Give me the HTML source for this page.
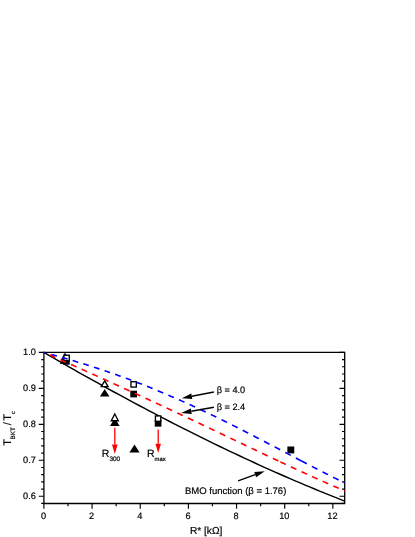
<!DOCTYPE html>
<html><head><meta charset="utf-8"><title>chart</title>
<style>html,body{margin:0;padding:0;background:#fff;}body{width:415px;height:537px;position:relative;overflow:hidden;font-family:"Liberation Sans",sans-serif;}</style></head>
<body>
<svg width="415" height="537" viewBox="0 0 415 537" style="position:absolute;left:0;top:0">
<rect width="415" height="537" fill="#fff"/>
<path d="M43.9,352.4 H344.7 V503.5 H43.9 Z" fill="none" stroke="#000" stroke-width="1.3"/>
<path d="M43.9,352.40 h-5.2 M344.7,352.40 h-5.2 M43.9,359.59 h-2.7 M344.7,359.59 h-2.7 M43.9,366.78 h-2.7 M344.7,366.78 h-2.7 M43.9,373.98 h-2.7 M344.7,373.98 h-2.7 M43.9,381.17 h-2.7 M344.7,381.17 h-2.7 M43.9,388.36 h-5.2 M344.7,388.36 h-5.2 M43.9,395.55 h-2.7 M344.7,395.55 h-2.7 M43.9,402.74 h-2.7 M344.7,402.74 h-2.7 M43.9,409.94 h-2.7 M344.7,409.94 h-2.7 M43.9,417.13 h-2.7 M344.7,417.13 h-2.7 M43.9,424.32 h-5.2 M344.7,424.32 h-5.2 M43.9,431.51 h-2.7 M344.7,431.51 h-2.7 M43.9,438.70 h-2.7 M344.7,438.70 h-2.7 M43.9,445.90 h-2.7 M344.7,445.90 h-2.7 M43.9,453.09 h-2.7 M344.7,453.09 h-2.7 M43.9,460.28 h-5.2 M344.7,460.28 h-5.2 M43.9,467.47 h-2.7 M344.7,467.47 h-2.7 M43.9,474.66 h-2.7 M344.7,474.66 h-2.7 M43.9,481.86 h-2.7 M344.7,481.86 h-2.7 M43.9,489.05 h-2.7 M344.7,489.05 h-2.7 M43.9,496.24 h-5.2 M344.7,496.24 h-5.2 M43.9,503.43 h-2.7 M344.7,503.43 h-2.7 M43.90,503.5 v5.2 M67.98,503.5 v2.7 M92.06,503.5 v5.2 M116.14,503.5 v2.7 M140.22,503.5 v5.2 M164.30,503.5 v2.7 M188.38,503.5 v5.2 M212.46,503.5 v2.7 M236.54,503.5 v5.2 M260.62,503.5 v2.7 M284.70,503.5 v5.2 M308.78,503.5 v2.7 M332.86,503.5 v5.2" fill="none" stroke="#000" stroke-width="1.15"/>
<path d="M43.90,352.40 L48.91,355.31 L53.93,358.21 L58.94,361.09 L63.95,363.97 L68.97,366.83 L73.98,369.68 L78.99,372.51 L84.01,375.34 L89.02,378.15 L94.03,380.94 L99.05,383.73 L104.06,386.50 L109.07,389.26 L114.09,392.00 L119.10,394.73 L124.11,397.45 L129.13,400.15 L134.14,402.84 L139.15,405.51 L144.17,408.17 L149.18,410.82 L154.19,413.45 L159.21,416.07 L164.22,418.67 L169.23,421.25 L174.25,423.82 L179.26,426.38 L184.27,428.92 L189.29,431.44 L194.30,433.95 L199.31,436.44 L204.33,438.92 L209.34,441.38 L214.35,443.82 L219.37,446.25 L224.38,448.66 L229.39,451.05 L234.41,453.42 L239.42,455.78 L244.43,458.12 L249.45,460.45 L254.46,462.76 L259.47,465.05 L264.49,467.32 L269.50,469.57 L274.51,471.80 L279.53,474.02 L284.54,476.22 L289.55,478.40 L294.57,480.56 L299.58,482.70 L304.59,484.83 L309.61,486.93 L314.62,489.02 L319.63,491.08 L324.65,493.13 L329.66,495.16 L334.67,497.16 L339.69,499.15 L344.70,501.12" fill="none" stroke="#000" stroke-width="1.45"/>
<path d="M64.70,356.20 L69.50,363.90 L59.90,363.90 Z" fill="#000"/>
<path d="M104.70,389.00 L109.50,396.60 L99.90,396.60 Z" fill="#000"/>
<path d="M114.80,417.90 L119.60,426.10 L110.00,426.10 Z" fill="#000"/>
<path d="M134.50,444.50 L139.60,452.60 L129.40,452.60 Z" fill="#000"/>
<path d="M65.00,353.87 L68.44,359.93 L61.56,359.93 Z" fill="#fff" stroke="#000" stroke-width="1.35" stroke-linejoin="miter" stroke-miterlimit="10"/>
<path d="M104.70,380.92 L108.11,386.62 L101.29,386.62 Z" fill="#fff" stroke="#000" stroke-width="1.35" stroke-linejoin="miter" stroke-miterlimit="10"/>
<path d="M114.80,414.06 L118.29,420.72 L111.31,420.72 Z" fill="#fff" stroke="#000" stroke-width="1.35" stroke-linejoin="miter" stroke-miterlimit="10"/>
<rect x="63.00" y="358.00" width="6.70" height="6.70" fill="#000"/>
<rect x="130.30" y="390.70" width="6.70" height="6.70" fill="#000"/>
<rect x="154.75" y="419.95" width="6.70" height="6.70" fill="#000"/>
<rect x="287.35" y="446.50" width="6.90" height="6.90" fill="#000"/>
<rect x="63.92" y="355.22" width="5.35" height="5.35" fill="#fff" stroke="#000" stroke-width="1.35"/>
<rect x="130.98" y="381.72" width="5.35" height="5.35" fill="#fff" stroke="#000" stroke-width="1.35"/>
<rect x="155.43" y="415.93" width="5.35" height="5.35" fill="#fff" stroke="#000" stroke-width="1.35"/>
<path d="M43.90,352.40 L44.16,352.52 L44.42,352.63 L44.68,352.75 M49.80,355.03 L51.63,355.85 L53.47,356.67 L55.30,357.48 M60.42,359.76 L62.25,360.58 L64.09,361.40 L65.92,362.21 M71.04,364.50 L72.87,365.32 L74.71,366.13 L76.54,366.95 M81.66,369.24 L83.49,370.06 L85.33,370.88 L87.16,371.70 M92.28,374.00 L94.11,374.82 L95.95,375.64 L97.78,376.47 M102.90,378.77 L104.73,379.60 L106.57,380.43 L108.40,381.25 M113.52,383.57 L115.35,384.40 L117.19,385.23 L119.02,386.07 M124.14,388.40 L125.97,389.23 L127.81,390.07 L129.64,390.91 M134.76,393.25 L136.59,394.09 L138.43,394.93 L140.26,395.77 M145.38,398.13 L147.21,398.98 L149.05,399.82 L150.88,400.67 M156.00,403.04 L157.83,403.90 L159.67,404.75 L161.50,405.60 M166.62,407.99 L168.45,408.84 L170.29,409.70 L172.12,410.56 M177.24,412.96 L179.07,413.82 L180.91,414.68 L182.74,415.54 M187.86,417.95 L189.69,418.82 L191.53,419.69 L193.36,420.55 M198.48,422.97 L200.31,423.84 L202.15,424.71 L203.98,425.58 M209.10,428.01 L210.93,428.89 L212.77,429.76 L214.60,430.63 M219.72,433.07 L221.55,433.94 L223.39,434.82 L225.22,435.69 M230.34,438.13 L232.17,439.01 L234.01,439.88 L235.84,440.76 M240.96,443.20 L242.79,444.07 L244.63,444.95 L246.46,445.82 M251.58,448.26 L253.41,449.13 L255.25,450.00 L257.08,450.87 M262.20,453.31 L264.03,454.17 L265.87,455.04 L267.70,455.91 M272.82,458.33 L274.65,459.20 L276.49,460.06 L278.32,460.92 M280.30,461.85 L282.13,462.71 L283.97,463.57 L285.80,464.43 M290.90,466.81 L292.73,467.66 L294.57,468.51 L296.40,469.36 M301.50,471.71 L303.33,472.55 L305.17,473.39 L307.00,474.23 M312.10,476.55 L313.93,477.38 L315.77,478.20 L317.60,479.03 M322.70,481.31 L324.53,482.12 L326.37,482.94 L328.20,483.75 M333.30,485.98 L335.13,486.78 L336.97,487.57 L338.80,488.37 M343.90,490.55 L344.17,490.66 L344.43,490.77 L344.70,490.89" fill="none" stroke="#ff0000" stroke-width="1.6"/>
<path d="M43.90,352.40 L44.43,352.54 L44.97,352.69 L45.50,352.83 M51.40,354.45 L53.23,354.96 L55.07,355.47 L56.90,355.99 M62.03,357.44 L63.86,357.97 L65.70,358.50 L67.53,359.04 M72.66,360.55 L74.49,361.10 L76.33,361.66 L78.16,362.21 M83.29,363.79 L85.12,364.36 L86.96,364.94 L88.79,365.52 M93.92,367.17 L95.75,367.76 L97.59,368.37 L99.42,368.97 M104.55,370.69 L106.38,371.31 L108.22,371.94 L110.05,372.57 M115.18,374.36 L117.01,375.01 L118.85,375.67 L120.68,376.32 M125.81,378.19 L127.64,378.87 L129.48,379.55 L131.31,380.24 M136.44,382.18 L138.27,382.89 L140.11,383.60 L141.94,384.31 M147.07,386.33 L148.90,387.07 L150.74,387.80 L152.57,388.54 M157.70,390.64 L159.53,391.40 L161.37,392.17 L163.20,392.94 M168.33,395.11 L170.16,395.90 L172.00,396.69 L173.83,397.49 M178.96,399.74 L180.79,400.55 L182.63,401.37 L184.46,402.19 M189.59,404.51 L191.42,405.35 L193.26,406.19 L195.09,407.04 M200.22,409.43 L202.05,410.29 L203.89,411.16 L205.72,412.03 M210.85,414.48 L212.68,415.36 L214.52,416.25 L216.35,417.14 M221.48,419.65 L223.31,420.56 L225.15,421.46 L226.98,422.37 M232.11,424.93 L233.94,425.86 L235.78,426.78 L237.61,427.71 M242.74,430.31 L244.57,431.25 L246.41,432.19 L248.24,433.13 M253.37,435.77 L255.20,436.72 L257.04,437.67 L258.87,438.62 M264.00,441.29 L265.83,442.25 L267.67,443.21 L269.50,444.17 M274.63,446.86 L276.46,447.82 L278.30,448.78 L280.13,449.75 M285.26,452.45 L287.09,453.41 L288.93,454.37 L290.76,455.34 M295.89,458.03 L297.72,459.00 L299.56,459.96 L301.39,460.92 M301.30,460.87 L303.13,461.83 L304.97,462.79 L306.80,463.74 M311.90,466.40 L313.73,467.35 L315.57,468.30 L317.40,469.24 M322.50,471.86 L324.33,472.80 L326.17,473.73 L328.00,474.66 M333.10,477.23 L334.93,478.15 L336.77,479.06 L338.60,479.97 M343.70,482.48 L344.03,482.64 L344.37,482.81 L344.70,482.97" fill="none" stroke="#0000ff" stroke-width="1.6"/>
<defs><filter id="g" x="0" y="0" width="1" height="1" filterUnits="objectBoundingBox" color-interpolation-filters="sRGB"><feColorMatrix type="saturate" values="0"/></filter></defs>
<g filter="url(#g)" stroke="#000" stroke-width="0.2" text-rendering="geometricPrecision" font-family="Liberation Sans, sans-serif" fill="#000">
<rect x="0" y="340" width="415" height="197" fill="none" stroke="none"/>
<g font-size="9.2">
<text x="35.9" y="354.95" text-anchor="end">1.0</text>
<text x="35.9" y="390.91" text-anchor="end">0.9</text>
<text x="35.9" y="426.87" text-anchor="end">0.8</text>
<text x="35.9" y="462.83" text-anchor="end">0.7</text>
<text x="35.9" y="498.79" text-anchor="end">0.6</text>
<text x="43.50" y="518.6" text-anchor="middle">0</text>
<text x="91.66" y="518.6" text-anchor="middle">2</text>
<text x="139.82" y="518.6" text-anchor="middle">4</text>
<text x="187.98" y="518.6" text-anchor="middle">6</text>
<text x="236.14" y="518.6" text-anchor="middle">8</text>
<text x="284.30" y="518.6" text-anchor="middle">10</text>
<text x="332.46" y="518.6" text-anchor="middle">12</text>
</g>
<text x="189.9" y="533.5" font-size="10.2">R* [kΩ]</text>
<text transform="translate(11.1,445.85) rotate(-90)" font-size="11">T</text>
<text transform="translate(15.2,439.4) rotate(-90)" font-size="6.3">BKT</text>
<text transform="translate(11.1,425.3) rotate(-90)" font-size="11">/</text>
<text transform="translate(11.1,420.75) rotate(-90)" font-size="11">T</text>
<text transform="translate(15.0,414.1) rotate(-90)" font-size="5.8">c</text>
<text x="216.7" y="392.8" font-size="9.2">β = 4.0</text>
<text x="216.7" y="409.5" font-size="9.2">β = 2.4</text>
<text x="185.0" y="493.7" font-size="9.5">BMO function (β = 1.76)</text>
<text x="101.8" y="457.0" font-size="10.5">R<tspan font-size="6.5" dy="4.4">300</tspan></text>
<text x="147.0" y="457.0" font-size="10.5">R<tspan font-size="5.9" dy="3.5">max</tspan></text>
</g>
<path d="M114.80,427.80 L114.80,444.60" stroke="#ff0000" stroke-width="1.3" fill="none"/><path d="M114.80,453.90 L112.00,444.60 L117.60,444.60 Z" fill="#ff0000"/>
<path d="M158.20,429.50 L158.20,443.70" stroke="#ff0000" stroke-width="1.3" fill="none"/><path d="M158.20,453.00 L155.40,443.70 L161.00,443.70 Z" fill="#ff0000"/>
<path d="M213.90,392.00 L191.81,396.27" stroke="#000" stroke-width="1.4" fill="none"/><path d="M181.80,398.20 L191.29,393.57 L192.34,398.97 Z" fill="#000"/>
<path d="M213.90,407.20 L191.24,411.22" stroke="#000" stroke-width="1.4" fill="none"/><path d="M181.20,413.00 L190.76,408.51 L191.72,413.93 Z" fill="#000"/>
<path d="M238.10,480.90 L255.21,474.68" stroke="#000" stroke-width="1.4" fill="none"/><path d="M264.80,471.20 L256.15,477.27 L254.27,472.10 Z" fill="#000"/>
</svg>
</body></html>
